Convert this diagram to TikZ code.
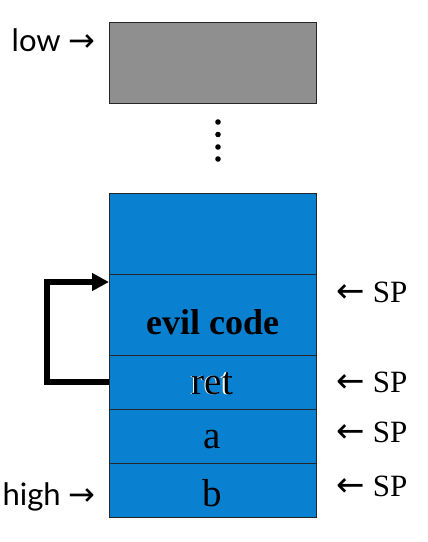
\documentclass[tikz,border=0pt]{standalone}
\usepackage{fontspec}
\setmainfont{Liberation Serif}
\newfontfamily\handfont{Lato}
\newfontfamily\arrowfont{DejaVu Sans}
\usetikzlibrary{positioning,arrows.meta}
\definecolor{stackblue}{RGB}{10,128,208}
\definecolor{heapgray}{RGB}{143,143,143}

\begin{document}
\begin{tikzpicture}[x=1pt,y=-1pt,
    cell/.style={draw=black!85,line width=1pt,fill=stackblue,minimum width=207pt,inner sep=0pt,outer sep=0pt},
    sp/.style={anchor=west,font=\fontsize{31}{36}\selectfont},
    val/.style={font=\fontsize{39}{44}\selectfont},
    side/.style={anchor=east,font=\handfont\fontsize{31}{36}\selectfont}]
    \useasboundingbox (0,0) rectangle (428,542);
    \node[cell,fill=heapgray,minimum height=81pt](heap)at(212.5,62.5){};
    \foreach \y [count=\i] in{122,134.5,147,159}
    \fill(218,\y)circle(2.8pt)coordinate(d\i);
    \node[cell,minimum height=81pt](top)at(212.5,233.5){};
    \node[cell,minimum height=81pt,below=0pt of top](evil){};
    \node[cell,minimum height=54pt,below=0pt of evil](ret){};
    \node[cell,minimum height=54pt,below=0pt of ret](a){};
    \node[cell,minimum height=54pt,below=0pt of a](b){};
    \node[font=\bfseries\fontsize{36}{42}\selectfont](evillabel)at([yshift=-8pt]evil.center){evil code};
    \node[val,text=white](retshadow)at([shift={(-1.5pt,-1.5pt)}]ret.center){ret};
    \node[val](retlabel)at([yshift=-2pt]ret.center){ret};
    \node[val](alabel)at([yshift=-4pt]a.center){a};
    \node[val](blabel)at([yshift=-3pt]b.center){b};
    \node[side](low)at(99,40){low {\arrowfont\fontsize{32}{36}\selectfont →}};
    \node[side](high)at(99,497){high {\arrowfont\fontsize{32}{36}\selectfont →}};
    \foreach \n/\y in{evil/292,ret/382,a/432,b/486}
    \node[sp](sp\n)at(333,\y){{\arrowfont\fontsize{34}{36}\selectfont ←} SP};
    \coordinate(entry)at([yshift=-8pt]evil.north west);
    \draw[line width=5.5pt,-{Triangle[length=17pt,width=17pt]}](ret.west)-|(47,282)--(entry);
\end{tikzpicture}
\end{document}
